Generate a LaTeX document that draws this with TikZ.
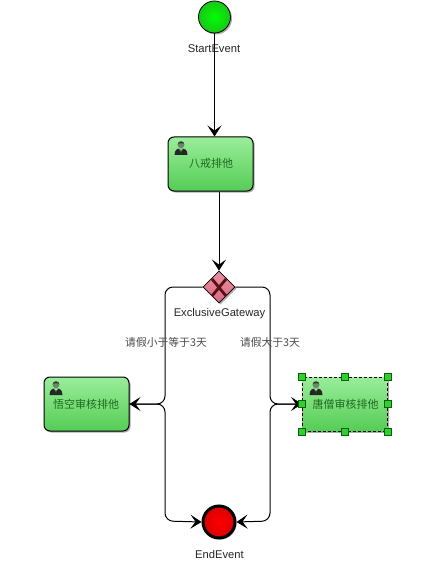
\documentclass[tikz,border=0pt]{standalone}
\usepackage{fontspec}
\setmainfont{Liberation Sans}
\newfontfamily\cjk{Noto Sans CJK SC}
\usetikzlibrary{arrows.meta,shapes.geometric,shadows}
\definecolor{mygtop}{HTML}{9AEE9A}
\definecolor{mygbot}{HTML}{55CC55}
\definecolor{mytxt}{HTML}{1F6A1F}
\definecolor{mygh}{HTML}{33CC33}
\definecolor{gwtop}{HTML}{E88FA0}
\definecolor{gwbot}{HTML}{D86C84}
\definecolor{gwx}{HTML}{5A0F14}
\tikzset{
 x=1pt,y=-1pt,
 softshadow/.style={drop shadow={shadow xshift=1.5pt,shadow yshift=-1.5pt,fill=black!55,opacity=.6}},
 taskbox/.style={rectangle,rounded corners=6pt,draw=black,line width=1pt,minimum width=85pt,minimum height=54pt,
   top color=mygtop,bottom color=mygbot,softshadow,inner sep=0pt},
 tasktext/.style={font=\cjk\fontsize{11}{13}\selectfont,text=mytxt},
 evlabel/.style={font=\fontsize{11.2}{13}\selectfont,text=black!85},
 cond/.style={font=\cjk\fontsize{10.8}{13}\selectfont,text=black!70,inner sep=0pt},
 flow/.style={draw=black,line width=1pt,rounded corners=8pt},
 arrowflow/.style={flow,-{Stealth[length=11pt,width=14pt,inset=5pt]}},
 handle/.style={rectangle,draw=black!60!green,fill=mygh,line width=.7pt,minimum size=7pt,inner sep=0pt},
}
\newcommand{\personicon}[2]{%
 \begin{scope}[shift={(#1,#2)}]
  \fill[black!85] (-6.5,8) .. controls (-6.5,2) and (-3,1.5) .. (0,1.5) .. controls (3,1.5) and (6.5,2) .. (6.5,8) -- cycle;
  \fill[white] (-1.7,1.7) -- (1.7,1.7) -- (0,5.5) -- cycle;
  \fill[green!30!black] (-.6,2.5) -- (.6,2.5) -- (.9,7) -- (-.9,7) -- cycle;
  \fill[green!25!black!60!white] (0,-2.2) circle (3.4);
  \fill[black!80] (-3.4,-2.6) .. controls (-3.4,-6.6) and (3.4,-6.6) .. (3.4,-2.6) -- (2.4,-3.6) -- (-2.4,-3.6) -- cycle;
 \end{scope}}
\begin{document}
\begin{tikzpicture}
\useasboundingbox (0,0) rectangle (443,580);
\fill[white] (0,0) rectangle (443,580);
% coordinates of bends
\coordinate (lu) at (165,287);
\coordinate (lm) at (165,404);
\coordinate (ld) at (165,521);
\coordinate (ru) at (270,287);
\coordinate (rm) at (270,404);
\coordinate (rd) at (270,521);
% nodes
\node[circle,draw=black,line width=.8pt,minimum size=32pt,inner sep=0pt,inner color=green!100,outer color=green!75!black!90,softshadow] (start) at (214.5,17) {};
\node[taskbox] (t1) at (210.5,164) {};
\node[tasktext] (t1l) at (211,163.5) {八戒排他};
\personicon{181}{147}
\node[diamond,aspect=1,draw=black,line width=.8pt,minimum size=32pt,inner sep=0pt,top color=gwtop,bottom color=gwbot,softshadow] (gw) at (219,287) {};
\draw[line width=2.8pt,draw=gwx] (212,279) -- (226,296) (226,279) -- (212,296);
\node[taskbox] (t2) at (86.5,404) {};
\node[tasktext] (t2l) at (86,404) {悟空审核排他};
\personicon{56}{387}
\node[taskbox,rounded corners=0pt,dash pattern=on 3pt off 2pt,line width=1pt] (t3) at (345,404) {};
\node[tasktext] (t3l) at (345.5,404) {唐僧审核排他};
\personicon{316}{387}
\node[circle,draw=black,line width=3pt,minimum size=32pt,inner sep=0pt,inner color=red,outer color=red!85!black,softshadow] (end) at (219,522) {};
% connectors
\draw[arrowflow] (start) -- (t1.north -| start);
\draw[arrowflow] (t1.south -| gw) -- (gw.north);
\draw[arrowflow] (gw.west) -- (lu) -- (lm) -- (t2.east);
\draw[arrowflow] (gw.east) -- (ru) -- (rm) -- (t3.west);
\draw[arrowflow] (t2.east) -- (lm) -- (ld) -- (end.west);
\draw[arrowflow] (t3.west) -- (rm) -- (rd) -- (end.east);
% labels
\node[evlabel] (startl) at (214,49) {StartEvent};
\node[evlabel] (gwl) at (219.5,313.5) {ExclusiveGateway};
\node[evlabel] (endl) at (219.5,554) {EndEvent};
\node[cond] (c1) at (166,342.5) {请假小于等于3天};
\node[cond] (c2) at (270,342.5) {请假大于3天};
% selection handles
\foreach \p/\n in {north west/a,north/b,north east/c,west/d,east/e,south west/f,south/g,south east/h}
  \node[handle] (h\n) at (t3.\p) {};
\end{tikzpicture}
\end{document}
